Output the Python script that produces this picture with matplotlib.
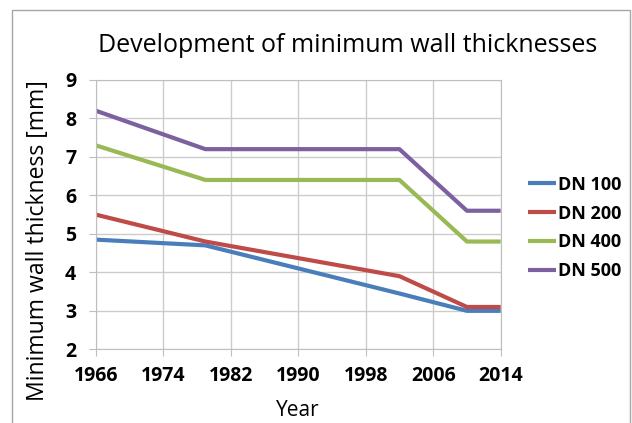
import matplotlib
matplotlib.use("Agg")
import matplotlib.pyplot as plt
import matplotlib.patches as mpatches

plt.rcParams['font.family'] = ['Open Sans', 'DejaVu Sans']

years = [1966, 1979, 2002, 2010, 2014]
dn100 = [4.85, 4.7, 3.45, 3.0, 3.0]
dn200 = [5.5, 4.8, 3.9, 3.1, 3.1]
dn400 = [7.3, 6.4, 6.4, 4.8, 4.8]
dn500 = [8.2, 7.2, 7.2, 5.6, 5.6]
series_names = ['DN 100', 'DN 200', 'DN 400', 'DN 500']
colors = ['#4A7EBB', '#BE4B48', '#98B954', '#7D60A0']
xticks = [1966, 1974, 1982, 1990, 1998, 2006, 2014]
yticks = [2, 3, 4, 5, 6, 7, 8, 9]

fig = plt.figure(figsize=(6.32, 4.23), dpi=100)
ax = fig.add_axes([0.1514, 0.1742, 0.6408, 0.637])

# outer chart frame
frame = mpatches.Rectangle((12 / 632, -0.05), (630 - 12) / 632, 1.05 - 10 / 423,
                           transform=fig.transFigure, fill=False,
                           edgecolor='#a6a6a6', linewidth=1.0)
fig.patches.append(frame)

for vals, name, c in zip([dn100, dn200, dn400, dn500], series_names, colors):
    ax.plot(years, vals, color=c, linewidth=3.0, label=name, solid_capstyle='butt')

ax.set_xlim(1966, 2014)
ax.set_ylim(2, 9)
ax.set_xticks(xticks)
ax.set_yticks(yticks)
ax.grid(True, color='#cccccc', linewidth=1.0)
ax.set_axisbelow(True)
for s in ax.spines.values():
    s.set_color('#bfbfbf')
ax.tick_params(axis='both', colors='#bfbfbf', length=5, labelcolor='black')
ax.tick_params(axis='x', pad=7)
ax.tick_params(axis='y', pad=9)
for lbl in ax.get_xticklabels() + ax.get_yticklabels():
    lbl.set_fontweight('bold')
    lbl.set_fontsize(14)

ax.set_xlabel('Year', fontsize=15, labelpad=10)
fig.text(38 / 632, 1 - 241 / 423, 'Minimum wall thickness [mm]',
         rotation=90, ha='center', va='center', fontsize=16.6)
fig.text(0.55, 0.893, 'Development of minimum wall thicknesses',
         ha='center', va='center', fontsize=18)

leg = ax.legend(loc='center left', bbox_to_anchor=(1.028, 0.45), frameon=False,
                handlelength=1.55, handletextpad=0.1, labelspacing=0.6,
                prop={'weight': 'bold', 'size': 13})

fig.savefig('out.png', dpi=100)
